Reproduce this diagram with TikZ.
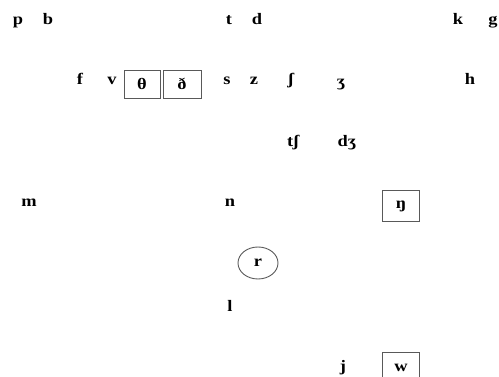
\documentclass[tikz,border=0pt]{standalone}
\usepackage{fontspec}
\setmainfont{Liberation Serif}[FakeStretch=1.15]
\usetikzlibrary{shapes.geometric}
\tikzset{
  phone/.style={
    font=\bfseries\fontsize{16}{19}\selectfont,
    anchor=base,
    inner sep=0pt
  },
  boxedphone/.style={
    phone,
    anchor=center,
    draw=black!65,
    line width=0.9pt,
    minimum width=37pt,
    minimum height=28pt
  },
  ringedphone/.style={
    phone,
    anchor=center,
    ellipse,
    draw=black!65,
    line width=0.9pt,
    minimum width=40pt,
    minimum height=32pt
  }
}
\begin{document}
\begin{tikzpicture}[x=1pt,y=-1pt]
\useasboundingbox (0,0) rectangle (499,377);

% plosives
\node[phone] (p) at (18,25) {p};
\node[phone] (b) at (48,25) {b};
\node[phone] (t) at (229,25) {t};
\node[phone] (d) at (257,25) {d};
\node[phone] (k) at (458,25) {k};
\node[phone] (g) at (493,25) {g};

% fricatives
\node[phone] (f) at (80,85) {f};
\node[phone] (v) at (112,85) {v};
\node[boxedphone, minimum width=36pt] (theta) at (142,84) {θ};
\node[boxedphone, minimum width=38pt] (eth) at (182,84) {ð};
\node[phone] (s) at (227,85) {s};
\node[phone] (z) at (254,85) {z};
\node[phone] (esh) at (291,85) {ʃ};
\node[phone] (ezh) at (341,87) {ʒ};
\node[phone] (h) at (470,85) {h};

% affricates
\node[phone] (tesh) at (293,147) {tʃ};
\node[phone] (dezh) at (347,147) {dʒ};

% nasals
\node[phone] (m) at (29,207) {m};
\node[phone] (n) at (230,207) {n};
\node[boxedphone, minimum height=31pt] (eng) at (401,206) {ŋ};

% liquids
\node[ringedphone] (r) at (258,263) {r};
\node[phone] (l) at (230,312) {l};

% glides
\node[phone] (j) at (343,372) {j};
\node[boxedphone, minimum height=31pt] (w) at (401,368) {w};

\end{tikzpicture}
\end{document}
